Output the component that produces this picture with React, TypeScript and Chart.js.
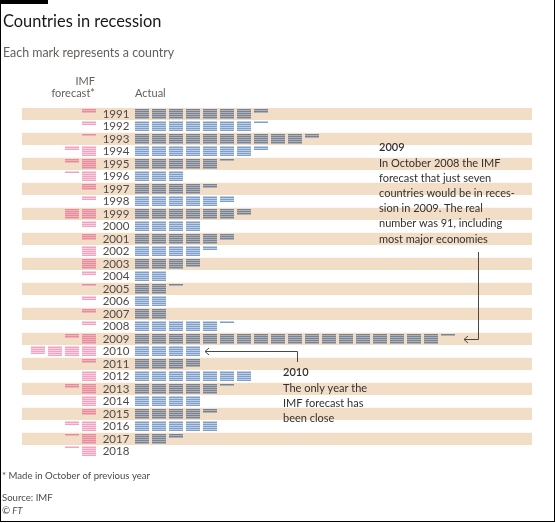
import React, { useEffect, useRef } from "react";
import { Chart, registerables } from "chart.js";

Chart.register(...registerables);

// ---------- data ----------
const years = [
  1991, 1992, 1993, 1994, 1995, 1996, 1997, 1998, 1999, 2000,
  2001, 2002, 2003, 2004, 2005, 2006, 2007, 2008, 2009, 2010,
  2011, 2012, 2013, 2014, 2015, 2016, 2017, 2018,
];
// countries actually in recession
const actualCounts = [
  37, 36, 52, 37, 26, 15, 22, 28, 33, 20,
  28, 22, 19, 10, 11, 10, 10, 26, 91, 20,
  19, 35, 26, 20, 22, 25, 12, null,
];
// IMF forecast (made in October of previous year)
const forecastCounts = [
  2, 2, 1, 7, 7, 6, 3, 2, 10, 3,
  3, 5, 5, 2, 1, 2, 2, 2, 7, 19,
  2, 5, 7, 5, 3, 7, 6, 6,
];
const columnLabels = { forecast: ["IMF", "forecast*"], actual: "Actual" };
const titleText = "Countries in recession";
const subtitleText = "Each mark represents a country";
const footnoteText = "* Made in October of previous year";
const sourceText = "Source: IMF";
const creditText = "\u00a9 FT";
const note2009 = {
  year: 2009,
  head: "2009",
  lines: [
    "In October 2008 the IMF",
    "forecast that just seven",
    "countries would be in reces-",
    "sion in 2009. The real",
    "number was 91, including",
    "most major economies",
  ],
};
const note2010 = {
  year: 2010,
  head: "2010",
  lines: ["The only year the", "IMF forecast has", "been close"],
};

// ---------- layout / style constants ----------
const W = 556;
const H = 523;
const PER_BLOCK = 5;
const UNIT_PX = 17; // one block step
const X_MIN = -120 / UNIT_PX;
const X_MAX = 390 / UNIT_PX;
const FORECAST_X0 = -53 / UNIT_PX; // centre of first forecast block
const YEAR_LABEL_X = -26 / UNIT_PX;
const SLOT = 0.16; // vertical step between marks in a block (year units)
const BAND = "#f2ddc6";
const BLUE = "#7e9ecb";
const GREY = "#75839a";
const PINK_LIGHT = "#f4a2bf";
const PINK_DARK = "#e98aa2";
const FONT = "Lato, 'Open Sans', sans-serif";

type Pt = { x: number; y: number; year: number };

function buildMarks(counts: (number | null)[], side: "actual" | "forecast"): Pt[] {
  const pts: Pt[] = [];
  years.forEach((yr, i) => {
    const n = counts[i];
    if (!n) return;
    for (let k = 0; k < n; k++) {
      const b = Math.floor(k / PER_BLOCK);
      const s = k % PER_BLOCK;
      const x = side === "actual" ? b : FORECAST_X0 - b;
      pts.push({ x, y: yr + (s - 2) * SLOT, year: yr });
    }
  });
  return pts;
}

const textPlugin = {
  id: "ftText",
  afterDatasetsDraw(chart: any) {
    const { ctx, scales } = chart;
    const xs = scales.x;
    const ys = scales.y;
    ctx.save();
    ctx.textBaseline = "alphabetic";

    // year labels
    ctx.font = `11.5px ${FONT}`;
    ctx.fillStyle = "#4f4a47";
    ctx.textAlign = "center";
    years.forEach((yr) => {
      ctx.fillText(String(yr), xs.getPixelForValue(YEAR_LABEL_X), ys.getPixelForValue(yr) + 4);
    });

    // column headers
    const topRow = ys.getPixelForValue(years[0]);
    ctx.font = `11px ${FONT}`;
    ctx.fillStyle = "#66605c";
    ctx.textAlign = "right";
    const fRight = xs.getPixelForValue(FORECAST_X0) + 6;
    ctx.fillText(columnLabels.forecast[0], fRight, topRow - 29);
    ctx.fillText(columnLabels.forecast[1], fRight, topRow - 16.5);
    ctx.textAlign = "left";
    ctx.fillText(columnLabels.actual, xs.getPixelForValue(0) - 7, topRow - 16.5);

    // title block
    ctx.fillStyle = "#1a1817";
    ctx.font = `16.4px ${FONT}`;
    ctx.fillText(titleText, 3, 26.5);
    ctx.fillStyle = "#66605c";
    ctx.font = `12.4px ${FONT}`;
    ctx.fillText(subtitleText, 3, 57);

    // footer
    ctx.font = `9.6px ${FONT}`;
    ctx.fillStyle = "#4f4a47";
    ctx.fillText(footnoteText, 2, 479);
    ctx.fillText(sourceText, 2, 500.5);
    ctx.font = `italic 9.6px ${FONT}`;
    ctx.fillText(creditText, 2, 513.5);

    // annotations
    const drawNote = (note: any, x0: number, headY: number, lineY: number) => {
      ctx.fillStyle = "#33302e";
      ctx.textAlign = "left";
      ctx.font = `600 11px ${FONT}`;
      ctx.fillText(note.head, x0, headY);
      ctx.font = `11px ${FONT}`;
      note.lines.forEach((l: string, i: number) => ctx.fillText(l, x0, lineY + i * 15.2));
    };
    drawNote(note2009, 379, 151, 166.5);
    drawNote(note2010, 283, 376, 391.5);

    // arrows
    const arrow = (vx: number, vy0: number, year: number, tipX: number) => {
      const ry = Math.round(ys.getPixelForValue(year)) + 0.5;
      ctx.strokeStyle = "#4a4745";
      ctx.lineWidth = 1;
      ctx.beginPath();
      ctx.moveTo(vx, vy0);
      ctx.lineTo(vx, ry);
      ctx.lineTo(tipX, ry);
      ctx.stroke();
      ctx.beginPath();
      ctx.moveTo(tipX + 4, ry - 3.5);
      ctx.lineTo(tipX, ry);
      ctx.lineTo(tipX + 4, ry + 3.5);
      ctx.stroke();
    };
    const lastBlock = (yr: number) => {
      const n = actualCounts[years.indexOf(yr)] || 0;
      return Math.floor((n - 1) / PER_BLOCK);
    };
    arrow(478.5, 252, 2009, xs.getPixelForValue(lastBlock(2009)) + 7 + 9);
    arrow(297.5, 362, 2010, xs.getPixelForValue(lastBlock(2010)) + 7 + 5);

    ctx.restore();
  },
};

export default function App() {
  const ref = useRef<HTMLCanvasElement | null>(null);

  useEffect(() => {
    if (!ref.current) return;
    const bandYears = years.filter((y) => y % 2 === 1);
    const chart = new Chart(ref.current, {
      type: "scatter",
      data: {
        datasets: [
          {
            label: "Actual",
            data: buildMarks(actualCounts, "actual") as any,
            pointStyle: "line",
            pointRadius: 7,
            pointHoverRadius: 7,
            pointBorderWidth: 1.6,
            pointBorderColor: (c: any) => (c.raw && c.raw.year % 2 === 1 ? GREY : BLUE),
            order: 1,
          } as any,
          {
            label: "IMF forecast",
            data: buildMarks(forecastCounts, "forecast") as any,
            pointStyle: "line",
            pointRadius: 7,
            pointHoverRadius: 7,
            pointBorderWidth: 1.6,
            pointBorderColor: (c: any) => (c.raw && c.raw.year % 2 === 1 ? PINK_DARK : PINK_LIGHT),
            order: 1,
          } as any,
          {
            type: "bar",
            label: "bands",
            indexAxis: "y",
            data: bandYears.map((y) => ({ x: [X_MIN, X_MAX], y })) as any,
            backgroundColor: BAND,
            borderWidth: 0,
            barThickness: 11.5,
            order: 10,
          } as any,
        ],
      },
      options: {
        animation: false,
        responsive: false,
        devicePixelRatio: 1,
        events: [],
        layout: { padding: { left: 22, right: 24, top: 107.55, bottom: 65.45 } },
        plugins: { legend: { display: false }, tooltip: { enabled: false }, title: { display: false } },
        scales: {
          x: { type: "linear", min: X_MIN, max: X_MAX, offset: false, display: false },
          y: { type: "linear", min: 1990.5, max: 2018.5, reverse: true, offset: false, display: false },
        },
      },
      plugins: [textPlugin],
    });
    return () => chart.destroy();
  }, []);

  return (
    <div style={{ position: "absolute", left: 0, top: 0, width: W, height: H, background: "#fff" }}>
      <canvas ref={ref} width={W} height={H} style={{ position: "absolute", left: 0, top: 0, width: W, height: H }} />
      <div
        style={{
          position: "absolute",
          left: 0,
          top: 0,
          width: 555,
          height: 522,
          boxSizing: "border-box",
          borderLeft: "1px solid #000",
          borderRight: "1px solid #000",
          borderBottom: "1px solid #000",
          pointerEvents: "none",
        }}
      />
      <div style={{ position: "absolute", left: 0, top: 0, width: 48, height: 4, background: "#000" }} />
    </div>
  );
}
